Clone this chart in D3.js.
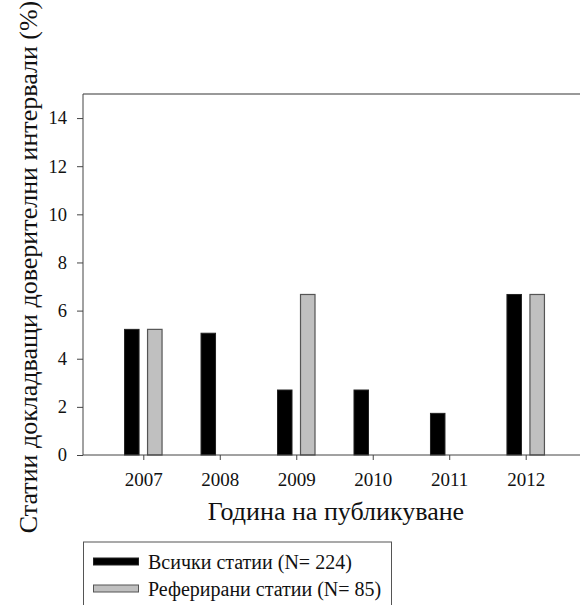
<!DOCTYPE html>
<meta charset="utf-8">
<script src="https://d3js.org/d3.v7.min.js"></script>
<style>
  body { margin: 0; background: #fff; }
  svg text { font-family: "Liberation Serif", "Times New Roman", serif !important; }
</style>
<div id="chart"></div>
<script>
// Data
var years = ["2007", "2008", "2009", "2010", "2011", "2012"];
var allArticles = [5.22, 5.06, 2.70, 2.70, 1.73, 6.67];
var refArticles = [5.22, 0, 6.67, 0, 0, 6.67];
var seriesNames = ["Всички статии (N= 224)", "Реферирани статии (N= 85)"];
var yTicks = [0, 2, 4, 6, 8, 10, 12, 14];

var W = 580, H = 605;
var mLeft = 83, mTop = 94, mBottom = 455, mRight = 600;

var svg = d3.select("#chart").append("svg")
    .attr("width", W).attr("height", H);

var x = d3.scalePoint().domain(years).range([143.3, 525.7]);
var y = d3.scaleLinear().domain([0, 15]).range([mBottom, mTop]);

var barW = 14.5, off = 11.5;

// frame (top line)
svg.append("line")
    .attr("x1", mLeft).attr("x2", mRight)
    .attr("y1", mTop).attr("y2", mTop)
    .attr("stroke", "#777").attr("stroke-width", 1.5);

// bars
var g = svg.append("g");
g.selectAll(".all")
  .data(years.map((d, i) => ({year: d, v: allArticles[i]})).filter(d => d.v > 0))
  .join("rect")
    .attr("x", d => x(d.year) - off - barW / 2)
    .attr("y", d => y(d.v))
    .attr("width", barW)
    .attr("height", d => mBottom - y(d.v))
    .attr("fill", "#000")
    .attr("stroke", "#222").attr("stroke-width", 1);

g.selectAll(".ref")
  .data(years.map((d, i) => ({year: d, v: refArticles[i]})).filter(d => d.v > 0))
  .join("rect")
    .attr("x", d => x(d.year) + off - barW / 2)
    .attr("y", d => y(d.v))
    .attr("width", barW)
    .attr("height", d => mBottom - y(d.v))
    .attr("fill", "#c0c0c0")
    .attr("stroke", "#555").attr("stroke-width", 1.2);

// y axis
var yAxis = svg.append("g")
    .attr("transform", `translate(${mLeft},0)`)
    .call(d3.axisLeft(y).tickValues(yTicks).tickSize(6).tickSizeOuter(0).tickPadding(10));
yAxis.attr("font-size", 18.5);
yAxis.select(".domain").attr("stroke", "#444").attr("d", `M0,${mTop}V${mBottom}`);
yAxis.selectAll(".tick line").attr("stroke", "#444");
yAxis.selectAll(".tick text").attr("fill", "#111");

// x axis
var xAxis = svg.append("g")
    .attr("transform", `translate(0,${mBottom})`)
    .call(d3.axisBottom(x).tickSize(5).tickSizeOuter(0).tickPadding(13));
xAxis.attr("font-size", 19);
xAxis.select(".domain").attr("stroke", "#444").attr("d", `M${mLeft},0H${mRight}`);
xAxis.selectAll(".tick line").attr("stroke", "#444");
xAxis.selectAll(".tick text").attr("fill", "#111");

// axis titles
svg.append("text")
    .attr("x", 336).attr("y", 520)
    .attr("text-anchor", "middle")
    .attr("font-size", 26)
    .attr("fill", "#111")
    .text("Година на публикуване");

svg.append("text")
    .attr("transform", "translate(37,267) rotate(-90)")
    .attr("text-anchor", "middle")
    .attr("font-size", 26)
    .attr("fill", "#111")
    .text("Статии докладващи доверителни интервали (%)");

// legend
var lg = svg.append("g");
lg.append("rect")
    .attr("x", 83.5).attr("y", 542)
    .attr("width", 308).attr("height", 80)
    .attr("fill", "none").attr("stroke", "#555").attr("stroke-width", 1);

var legColors = [["#000", "#222"], ["#c0c0c0", "#555"]];
seriesNames.forEach(function(name, i) {
  var yy = 558 + i * 27;
  lg.append("rect")
      .attr("x", 93.5).attr("y", yy)
      .attr("width", 45).attr("height", 7)
      .attr("fill", legColors[i][0]).attr("stroke", legColors[i][1]);
  lg.append("text")
      .attr("x", 148).attr("y", yy + 11)
      .attr("font-size", 20)
      .attr("fill", "#111")
      .text(name);
});
</script>
